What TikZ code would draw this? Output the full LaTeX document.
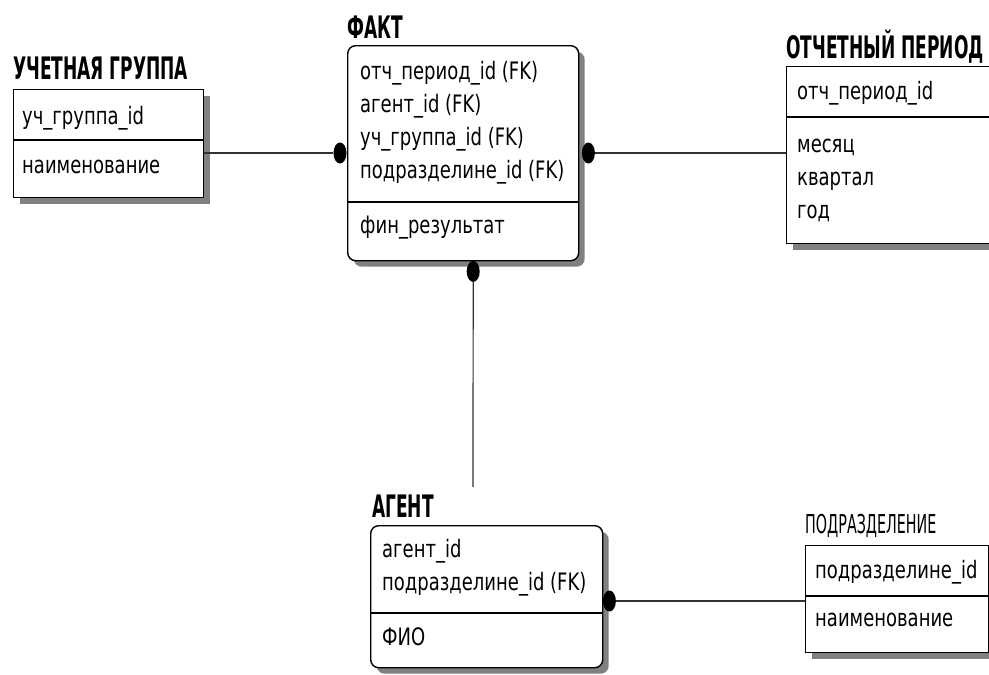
\documentclass[tikz,border=0pt]{standalone}
\usepackage{fontspec}
\newfontfamily\erfont[FakeStretch=0.75]{DejaVu Sans}
\newfontfamily\ertitle[FakeStretch=0.55]{DejaVu Sans}
\usetikzlibrary{shapes.geometric,shadows,positioning}
\tikzset{
  ent/.style   = {rectangle, draw=black, fill=white, line width=1.4pt, anchor=north west,
                  inner sep=0pt,
                  drop shadow={shadow xshift=6pt, shadow yshift=-6pt, fill=black!50, opacity=1}},
  dep/.style   = {ent, rounded corners=8pt},
  ttl/.style   = {anchor=base west, inner sep=0pt,
                  font=\ertitle\bfseries\fontsize{31pt}{31pt}\selectfont},
  ttlsm/.style = {ttl, font=\ertitle\fontsize{26pt}{26pt}\selectfont},
  attr/.style  = {anchor=base west, inner sep=0pt, font=\erfont\fontsize{24pt}{24pt}\selectfont},
  sep/.style   = {line width=1.2pt, draw=black},
  rel/.style   = {line width=1.2pt, draw=black!80},
  dot/.style   = {ellipse, fill=black, inner sep=0pt, minimum width=13pt, minimum height=21pt},
}
\begin{document}
\begin{tikzpicture}[x=1pt, y=-1pt]
  \useasboundingbox[fill=white] (0,0) rectangle (989,675);
  \clip (0,0) rectangle (989,675);

  % entities
  \node[ent, minimum width=190pt, minimum height=108pt] (grp) at (13,89) {};
  \node[dep, minimum width=231pt, minimum height=215pt] (fact) at (347,45) {};
  \node[ent, minimum width=260pt, minimum height=177pt] (per) at (786,66) {};
  \node[dep, minimum width=232pt, minimum height=142pt] (agent) at (370,525) {};
  \node[ent, minimum width=183pt, minimum height=107pt] (dept) at (805,545) {};

  % titles
  \node[ttl, yshift=10pt] (grpt) at (grp.north west) {УЧЕТНАЯ ГРУППА};
  \node[ttl, yshift=7pt] (factt) at (fact.north west) {ФАКТ};
  \node[ttl, yshift=8pt] (pert) at (per.north west) {ОТЧЕТНЫЙ ПЕРИОД};
  \node[ttl, xshift=2pt, yshift=8pt] (agentt) at (agent.north west) {АГЕНТ};
  \node[ttlsm, yshift=12pt] (deptt) at (dept.north west) {ПОДРАЗДЕЛЕНИЕ};

  % учетная группа
  \node[attr] (grp1) at ([xshift=9pt, yshift=-35pt]grp.north west) {уч\_группа\_id};
  \draw[sep] ([yshift=-51pt]grp.north west) -- ([yshift=-51pt]grp.north east);
  \node[attr] (grp2) at ([xshift=9pt, yshift=-84pt]grp.north west) {наименование};

  % факт
  \node[attr] (fact1) at ([xshift=13pt, yshift=-34pt]fact.north west) {отч\_период\_id (FK)};
  \node[attr] (fact2) at ([yshift=-33pt]fact1.base west) {агент\_id (FK)};
  \node[attr] (fact3) at ([yshift=-33pt]fact2.base west) {уч\_группа\_id (FK)};
  \node[attr] (fact4) at ([yshift=-33pt]fact3.base west) {подразделине\_id (FK)};
  \draw[sep] ([yshift=-157pt]fact.north west) -- ([yshift=-157pt]fact.north east);
  \node[attr] (fact5) at ([xshift=13pt, yshift=-188pt]fact.north west) {фин\_результат};

  % отчетный период
  \node[attr] (per1) at ([xshift=11pt, yshift=-33pt]per.north west) {отч\_период\_id};
  \draw[sep] ([yshift=-51pt]per.north west) -- ([yshift=-51pt]per.north east);
  \node[attr] (per2) at ([xshift=11pt, yshift=-86pt]per.north west) {месяц};
  \node[attr] (per3) at ([yshift=-33pt]per2.base west) {квартал};
  \node[attr] (per4) at ([yshift=-33pt]per3.base west) {год};

  % агент
  \node[attr] (agent1) at ([xshift=12pt, yshift=-32pt]agent.north west) {агент\_id};
  \node[attr] (agent2) at ([yshift=-33pt]agent1.base west) {подразделине\_id (FK)};
  \draw[sep] ([yshift=-88pt]agent.north west) -- ([yshift=-88pt]agent.north east);
  \node[attr] (agent3) at ([xshift=12pt, yshift=-120pt]agent.north west) {ФИО};

  % подразделение
  \node[attr] (dept1) at ([xshift=10pt, yshift=-33pt]dept.north west) {подразделине\_id};
  \draw[sep] ([yshift=-51pt]dept.north west) -- ([yshift=-51pt]dept.north east);
  \node[attr] (dept2) at ([xshift=10pt, yshift=-81pt]dept.north west) {наименование};

  % relationships
  \node[dot] (d1) at ([xshift=-7pt, yshift=-108pt]fact.north west) {};
  \node[dot] (d2) at ([xshift=9pt, yshift=-108pt]fact.north east) {};
  \node[dot] (d3) at ([xshift=10pt, yshift=-10pt]fact.south) {};
  \node[dot] (d4) at ([xshift=6pt, yshift=-76pt]agent.north east) {};
  \coordinate (agtop) at (473,487);

  \draw[rel] (grp.east |- d1) -- (d1);
  \draw[rel] (d2) -- (per.west |- d2);
  \draw[rel] (d3) -- (agtop);
  \draw[rel] (d4) -- (dept.west |- d4);
\end{tikzpicture}
\end{document}
